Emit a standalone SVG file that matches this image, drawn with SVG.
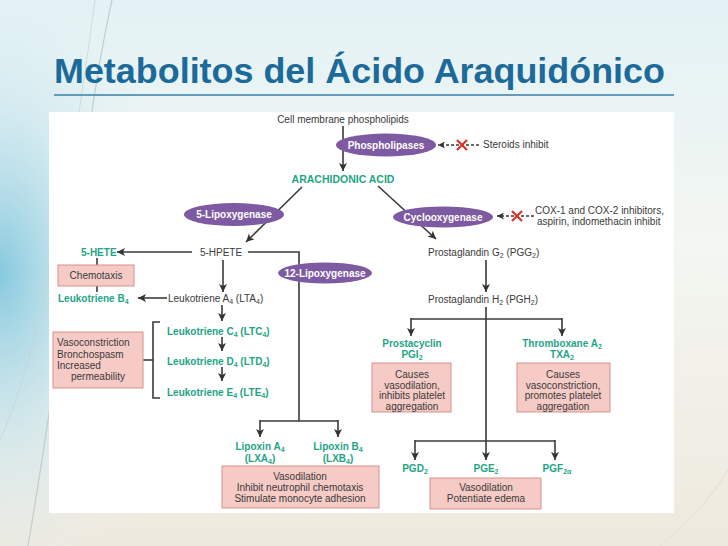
<svg xmlns="http://www.w3.org/2000/svg" width="728" height="546" viewBox="0 0 728 546">
<defs>
<linearGradient id="bg" x1="0" y1="0" x2="0" y2="1">
<stop offset="0" stop-color="#e3f2f5"/>
<stop offset="0.45" stop-color="#f3f6f1"/>
<stop offset="1" stop-color="#eee9de"/>
</linearGradient>
<radialGradient id="blue" cx="0" cy="0.5" r="0.6">
<stop offset="0" stop-color="#86c9de"/>
<stop offset="0.5" stop-color="#c4e4ee" stop-opacity="0.6"/>
<stop offset="1" stop-color="#e8f3f4" stop-opacity="0"/>
</radialGradient>
<marker id="ah" viewBox="0 0 10 10" refX="10" refY="5" markerWidth="8" markerHeight="9" markerUnits="userSpaceOnUse" orient="auto">
<path d="M0,0 L10,5 L0,10 L2.5,5 z" fill="#333"/>
</marker>
<marker id="ahs" viewBox="0 0 10 10" refX="10" refY="5" markerWidth="7" markerHeight="7" markerUnits="userSpaceOnUse" orient="auto">
<path d="M0,0 L10,5 L0,10 L2.5,5 z" fill="#333"/>
</marker>
</defs>
<style>
text{font-family:"Liberation Sans",Arial,sans-serif;font-size:10px;fill:#3a3a3a}
.g{fill:#1fa585;font-weight:bold}
.w{fill:#fff;font-weight:bold}
.c{text-anchor:middle}
.sub{font-size:7px}
.ln{stroke:#3a3a3a;stroke-width:1.6;fill:none}
.arr{marker-end:url(#ah)}
.dash{stroke:#3a3a3a;stroke-width:1.5;stroke-dasharray:3,2;fill:none;marker-end:url(#ahs)}
.x{stroke:#e0302a;stroke-width:2.2}
.ell{fill:#7e5aa2}
.box{fill:#f6cbc6;stroke:#d6918b;stroke-width:1}
.title{font-size:35px;font-weight:bold;fill:#1c6a9a}
</style>
<rect x="0" y="0" width="728" height="546" fill="url(#bg)"/>
<rect x="0" y="0" width="300" height="546" fill="url(#blue)"/>
<path d="M112,0 C85,120 70,300 28,546" stroke="#b9c6c8" stroke-width="1.2" fill="none" opacity="0.8"/>
<path d="M95,0 C75,150 45,340 0,440" stroke="#c8d2d2" stroke-width="1" fill="none" opacity="0.7"/>
<path d="M660,546 C690,520 710,500 728,470" stroke="#e4ded2" stroke-width="1" fill="none"/>
<rect x="49" y="112" width="625" height="401" fill="#fff"/>
<text class="title" x="54" y="83" textLength="611" lengthAdjust="spacingAndGlyphs">Metabolitos del Ácido Araquidónico</text>
<line x1="54" y1="95" x2="674" y2="95" stroke="#3a7fa8" stroke-width="1.6"/>
<g id="connectors">
<line class="ln arr" x1="343" y1="126" x2="343" y2="171"/>
<line class="ln arr" x1="302" y1="187" x2="246" y2="242"/>
<line class="ln arr" x1="378" y1="186" x2="436" y2="239"/>
<line class="dash" x1="479" y1="145" x2="438" y2="145"/>
<line class="dash" x1="534" y1="216" x2="497" y2="216"/>
<line class="ln arr" x1="192" y1="252" x2="117" y2="252"/>
<path class="ln" d="M248,252 H299 V421"/>
<path class="ln" d="M260,421 H338"/>
<line class="ln arr" x1="260" y1="420" x2="260" y2="437"/>
<line class="ln arr" x1="338" y1="420" x2="338" y2="437"/>
<line class="ln arr" x1="223" y1="260" x2="223" y2="292"/>
<line class="ln" x1="97" y1="258" x2="97" y2="265"/>
<line class="ln" x1="97" y1="286" x2="97" y2="292"/>
<line class="ln arr" x1="167" y1="298" x2="138" y2="298"/>
<line class="ln arr" x1="222" y1="305" x2="222" y2="321"/>
<line class="ln arr" x1="222" y1="337" x2="222" y2="351"/>
<line class="ln arr" x1="222" y1="367" x2="222" y2="381"/>
<path class="ln" d="M160,322 H153 V398 H160"/>
<line class="ln" x1="143" y1="360" x2="153" y2="360"/>
<line class="ln arr" x1="486" y1="260" x2="486" y2="292"/>
<line class="ln arr" x1="486" y1="307" x2="486" y2="460"/>
<path class="ln" d="M411,319 H562"/>
<line class="ln arr" x1="411" y1="318" x2="411" y2="336"/>
<line class="ln arr" x1="562" y1="318" x2="562" y2="336"/>
<path class="ln" d="M415,441 H555"/>
<line class="ln arr" x1="415" y1="440" x2="415" y2="460"/>
<line class="ln arr" x1="555" y1="440" x2="555" y2="460"/>
</g>
<g id="cell-membrane"><text class="c" x="343" y="123">Cell membrane phospholipids</text></g>
<g id="phospholipases"><ellipse class="ell" cx="386" cy="145" rx="50" ry="11.5"/><text class="w c" x="386" y="149">Phospholipases</text></g>
<g id="steroids"><line class="x" x1="457" y1="140" x2="467" y2="150"/><line class="x" x1="467" y1="140" x2="457" y2="150"/><text x="483" y="148">Steroids inhibit</text></g>
<g id="arachidonic"><text class="g c" x="343" y="183" style="font-size:10.5px">ARACHIDONIC ACID</text></g>
<g id="lipox5"><ellipse class="ell" cx="234" cy="214.5" rx="50" ry="11.5"/><text class="w c" x="234" y="218">5-Lipoxygenase</text></g>
<g id="cox"><ellipse class="ell" cx="443" cy="217" rx="50" ry="10.5"/><text class="w c" x="443" y="221">Cyclooxygenase</text></g>
<g id="cox-inhib"><line class="x" x1="512" y1="211" x2="522" y2="221"/><line class="x" x1="522" y1="211" x2="512" y2="221"/><text x="535" y="214">COX-1 and COX-2 inhibitors,</text><text x="537" y="225">aspirin, indomethacin inhibit</text></g>
<g id="hpete"><text class="c" x="221" y="256">5-HPETE</text></g>
<g id="hete"><text class="g" x="81" y="256">5-HETE</text></g>
<g id="chemotaxis"><rect class="box" x="58" y="265" width="76" height="21"/><text class="c" x="96" y="279">Chemotaxis</text></g>
<g id="ltb4"><text class="g" x="58" y="302">Leukotriene B<tspan class="sub" dy="1.5">4</tspan></text></g>
<g id="lta4"><text x="168" y="302">Leukotriene A<tspan class="sub" dy="1.5">4</tspan><tspan dy="-1.5"> (LTA</tspan><tspan class="sub" dy="1.5">4</tspan><tspan dy="-1.5">)</tspan></text></g>
<g id="ltc4"><text class="g" x="167" y="335">Leukotriene C<tspan class="sub" dy="1.5">4</tspan><tspan dy="-1.5"> (LTC</tspan><tspan class="sub" dy="1.5">4</tspan><tspan dy="-1.5">)</tspan></text></g>
<g id="ltd4"><text class="g" x="167" y="365">Leukotriene D<tspan class="sub" dy="1.5">4</tspan><tspan dy="-1.5"> (LTD</tspan><tspan class="sub" dy="1.5">4</tspan><tspan dy="-1.5">)</tspan></text></g>
<g id="lte4"><text class="g" x="167" y="396">Leukotriene E<tspan class="sub" dy="1.5">4</tspan><tspan dy="-1.5"> (LTE</tspan><tspan class="sub" dy="1.5">4</tspan><tspan dy="-1.5">)</tspan></text></g>
<g id="vasocon"><rect class="box" x="53" y="332" width="90" height="56"/><text x="57" y="346">Vasoconstriction</text><text x="57" y="358">Bronchospasm</text><text x="57" y="369">Increased</text><text x="71" y="380">permeability</text></g>
<g id="lipox12"><ellipse class="ell" cx="325" cy="273" rx="47" ry="10.5"/><text class="w c" x="325" y="277">12-Lipoxygenase</text></g>
<g id="lxa4"><text class="g c" x="260" y="450">Lipoxin A<tspan class="sub" dy="1.5">4</tspan></text><text class="g c" x="260" y="462">(LXA<tspan class="sub" dy="1.5">4</tspan><tspan dy="-1.5">)</tspan></text></g>
<g id="lxb4"><text class="g c" x="338" y="450">Lipoxin B<tspan class="sub" dy="1.5">4</tspan></text><text class="g c" x="338" y="462">(LXB<tspan class="sub" dy="1.5">4</tspan><tspan dy="-1.5">)</tspan></text></g>
<g id="lipoxin-effects"><rect class="box" x="222" y="466" width="157" height="42"/><text class="c" x="300" y="480">Vasodilation</text><text class="c" x="300" y="491">Inhibit neutrophil chemotaxis</text><text class="c" x="300" y="502">Stimulate monocyte adhesion</text></g>
<g id="pgg2"><text x="428" y="256">Prostaglandin G<tspan class="sub" dy="1.5">2</tspan><tspan dy="-1.5"> (PGG</tspan><tspan class="sub" dy="1.5">2</tspan><tspan dy="-1.5">)</tspan></text></g>
<g id="pgh2"><text x="428" y="303">Prostaglandin H<tspan class="sub" dy="1.5">2</tspan><tspan dy="-1.5"> (PGH</tspan><tspan class="sub" dy="1.5">2</tspan><tspan dy="-1.5">)</tspan></text></g>
<g id="pgi2"><text class="g c" x="412" y="347">Prostacyclin</text><text class="g c" x="412" y="358">PGI<tspan class="sub" dy="1.5">2</tspan></text></g>
<g id="pgi2-effects"><rect class="box" x="372" y="363" width="79" height="49"/><text class="c" x="412" y="378">Causes</text><text class="c" x="412" y="389">vasodilation,</text><text class="c" x="412" y="399">inhibits platelet</text><text class="c" x="412" y="410">aggregation</text></g>
<g id="txa2"><text class="g c" x="562" y="347">Thromboxane A<tspan class="sub" dy="1.5">2</tspan></text><text class="g c" x="562" y="358">TXA<tspan class="sub" dy="1.5">2</tspan></text></g>
<g id="txa2-effects"><rect class="box" x="517" y="363" width="93" height="49"/><text class="c" x="563" y="378">Causes</text><text class="c" x="563" y="389">vasoconstriction,</text><text class="c" x="563" y="399">promotes platelet</text><text class="c" x="563" y="410">aggregation</text></g>
<g id="pgd2"><text class="g c" x="415" y="472">PGD<tspan class="sub" dy="1.5">2</tspan></text></g>
<g id="pge2"><text class="g c" x="486" y="472">PGE<tspan class="sub" dy="1.5">2</tspan></text></g>
<g id="pgf2a"><text class="g c" x="557" y="472">PGF<tspan class="sub" dy="1.5">2α</tspan></text></g>
<g id="pg-effects"><rect class="box" x="430" y="478" width="111" height="31"/><text class="c" x="486" y="491">Vasodilation</text><text class="c" x="486" y="502">Potentiate edema</text></g>
</svg>
